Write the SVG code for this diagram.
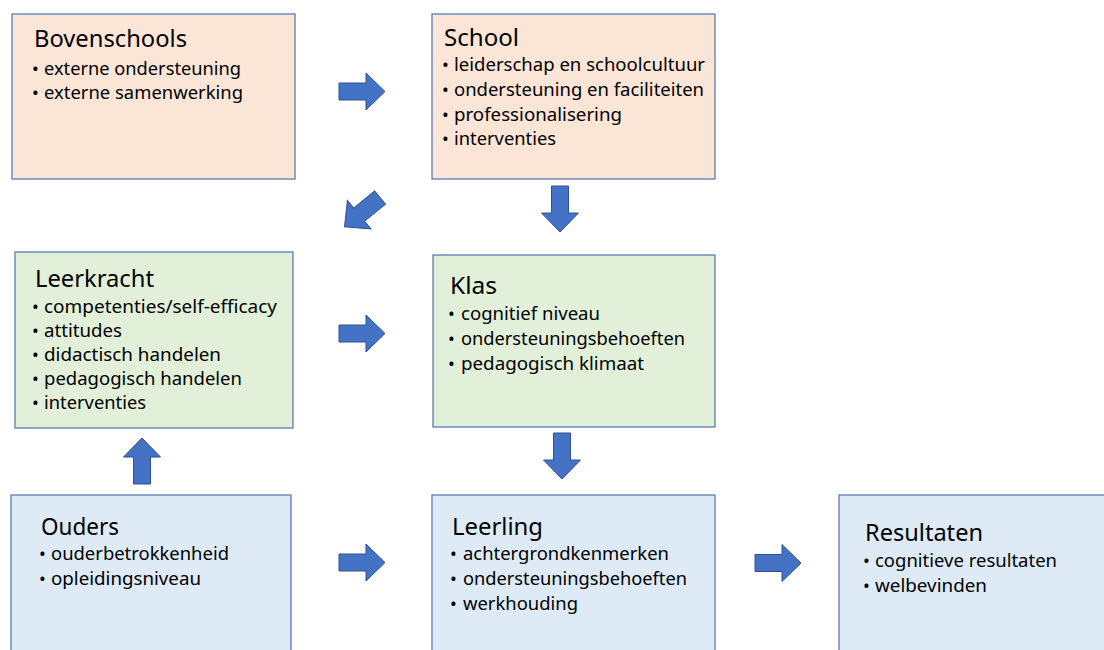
<svg xmlns="http://www.w3.org/2000/svg" width="1104" height="650" viewBox="0 0 1104 650">
<style>
.box{stroke:#5A7CB6;stroke-width:1.3}
.peach{fill:#FBE5D6}
.green{fill:#E2F0D9}
.blue{fill:#DEEBF7}
text{font-family:"Noto Sans","Open Sans","Liberation Sans",sans-serif;fill:#000}
.t{font-size:23.5px}
.b{font-size:18.3px}
.dot{font-size:18px}
.arr{fill:#4472C4;stroke:#2F528F;stroke-width:1}
</style>
<defs>
<path id="arrow" d="M0,-8.5 H27 V-18.5 L46,0 L27,18.5 V8.5 H0 Z"/>
</defs>
<rect width="1104" height="650" fill="#fff"/>
<g id="bovenschools">
<rect class="box peach" x="12" y="14" width="283" height="165"/>
<text class="t" x="34" y="47" textLength="153" lengthAdjust="spacingAndGlyphs">Bovenschools</text>
<text class="dot" x="32" y="75">•</text><text class="b" x="44" y="75" textLength="197" lengthAdjust="spacingAndGlyphs">externe ondersteuning</text>
<text class="dot" x="32" y="99">•</text><text class="b" x="44" y="99" textLength="199" lengthAdjust="spacingAndGlyphs">externe samenwerking</text>
</g>
<g id="school">
<rect class="box peach" x="432" y="14" width="283" height="165"/>
<text class="t" x="444" y="46" textLength="75" lengthAdjust="spacingAndGlyphs">School</text>
<text class="dot" x="442" y="71">•</text><text class="b" x="454" y="71" textLength="251" lengthAdjust="spacingAndGlyphs">leiderschap en schoolcultuur</text>
<text class="dot" x="442" y="96">•</text><text class="b" x="454" y="96" textLength="250" lengthAdjust="spacingAndGlyphs">ondersteuning en faciliteiten</text>
<text class="dot" x="442" y="121">•</text><text class="b" x="454" y="121" textLength="168" lengthAdjust="spacingAndGlyphs">professionalisering</text>
<text class="dot" x="442" y="145">•</text><text class="b" x="454" y="145" textLength="102" lengthAdjust="spacingAndGlyphs">interventies</text>
</g>
<g id="leerkracht">
<rect class="box green" x="15" y="252" width="278" height="176"/>
<text class="t" x="35" y="287" textLength="119" lengthAdjust="spacingAndGlyphs">Leerkracht</text>
<text class="dot" x="32" y="313">•</text><text class="b" x="44" y="313" textLength="233" lengthAdjust="spacingAndGlyphs">competenties/self-efficacy</text>
<text class="dot" x="32" y="337">•</text><text class="b" x="44" y="337" textLength="78" lengthAdjust="spacingAndGlyphs">attitudes</text>
<text class="dot" x="32" y="361">•</text><text class="b" x="44" y="361" textLength="177" lengthAdjust="spacingAndGlyphs">didactisch handelen</text>
<text class="dot" x="32" y="385">•</text><text class="b" x="44" y="385" textLength="198" lengthAdjust="spacingAndGlyphs">pedagogisch handelen</text>
<text class="dot" x="32" y="409">•</text><text class="b" x="44" y="409" textLength="102" lengthAdjust="spacingAndGlyphs">interventies</text>
</g>
<g id="klas">
<rect class="box green" x="433" y="255" width="282" height="172"/>
<text class="t" x="450" y="294" textLength="47" lengthAdjust="spacingAndGlyphs">Klas</text>
<text class="dot" x="448" y="320">•</text><text class="b" x="461" y="320" textLength="139" lengthAdjust="spacingAndGlyphs">cognitief niveau</text>
<text class="dot" x="448" y="345">•</text><text class="b" x="461" y="345" textLength="224" lengthAdjust="spacingAndGlyphs">ondersteuningsbehoeften</text>
<text class="dot" x="448" y="370">•</text><text class="b" x="461" y="370" textLength="183" lengthAdjust="spacingAndGlyphs">pedagogisch klimaat</text>
</g>
<g id="ouders">
<rect class="box blue" x="11" y="495" width="280" height="160"/>
<text class="t" x="41" y="535" textLength="78" lengthAdjust="spacingAndGlyphs">Ouders</text>
<text class="dot" x="39" y="560">•</text><text class="b" x="51" y="560" textLength="178" lengthAdjust="spacingAndGlyphs">ouderbetrokkenheid</text>
<text class="dot" x="39" y="585">•</text><text class="b" x="51" y="585" textLength="150" lengthAdjust="spacingAndGlyphs">opleidingsniveau</text>
</g>
<g id="leerling">
<rect class="box blue" x="432" y="495" width="283" height="160"/>
<text class="t" x="452" y="535" textLength="91" lengthAdjust="spacingAndGlyphs">Leerling</text>
<text class="dot" x="450" y="560">•</text><text class="b" x="463" y="560" textLength="206" lengthAdjust="spacingAndGlyphs">achtergrondkenmerken</text>
<text class="dot" x="450" y="585">•</text><text class="b" x="463" y="585" textLength="224" lengthAdjust="spacingAndGlyphs">ondersteuningsbehoeften</text>
<text class="dot" x="450" y="610">•</text><text class="b" x="463" y="610" textLength="115" lengthAdjust="spacingAndGlyphs">werkhouding</text>
</g>
<g id="resultaten">
<rect class="box blue" x="839" y="495" width="280" height="160"/>
<text class="t" x="865" y="541" textLength="118" lengthAdjust="spacingAndGlyphs">Resultaten</text>
<text class="dot" x="863" y="567">•</text><text class="b" x="875" y="567" textLength="182" lengthAdjust="spacingAndGlyphs">cognitieve resultaten</text>
<text class="dot" x="863" y="592">•</text><text class="b" x="875" y="592" textLength="112" lengthAdjust="spacingAndGlyphs">welbevinden</text>
</g>
<g id="connectors">
<use href="#arrow" class="arr" transform="translate(339,91.5)"/>
<use href="#arrow" class="arr" transform="translate(339,333.5)"/>
<use href="#arrow" class="arr" transform="translate(339,562.5)"/>
<use href="#arrow" class="arr" transform="translate(755,563)"/>
<use href="#arrow" class="arr" transform="translate(560,186) rotate(90)"/>
<use href="#arrow" class="arr" transform="translate(562,433) rotate(90)"/>
<use href="#arrow" class="arr" transform="translate(142,484) rotate(-90)"/>
<use href="#arrow" class="arr" transform="translate(380,197.5) rotate(140.5)"/>
</g>
</svg>
